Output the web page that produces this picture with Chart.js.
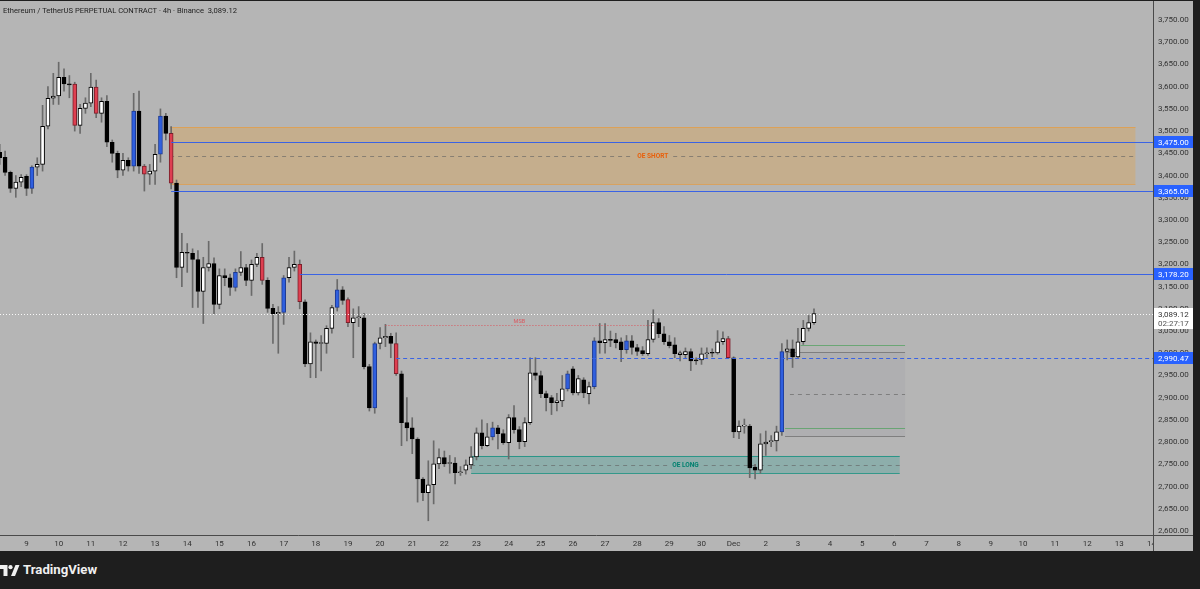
<!DOCTYPE html>
<html lang="en">
  <head>
    <meta charset="UTF-8" />
    <script src="https://cdn.jsdelivr.net/npm/chart.js"></script>
    <style>
      body {
        margin: 0;
        width: 1200px;
        height: 589px;
        overflow: hidden;
        position: relative;
        background: #1e1e1e;
        font-family: Roboto, "Liberation Sans", sans-serif;
      }
      #wrap {
        position: absolute;
        left: 0;
        top: 1px;
        width: 1193px;
        height: 550px;
        background: #b5b5b5;
      }
      #title {
        position: absolute;
        left: 3px;
        top: 6px;
        font-size: 7.6px;
        color: #222;
        white-space: nowrap;
        z-index: 2;
      }
      #footer {
        position: absolute;
        left: 0;
        top: 551px;
        width: 1200px;
        height: 38px;
        background: #1e1e1e;
      }
      #footer span {
        position: absolute;
        left: 23px;
        top: 11px;
        font-size: 13.2px;
        font-weight: bold;
        color: #f0f0f0;
      }
      #footer svg {
        position: absolute;
        left: 0;
        top: 14px;
      }
    </style>
  </head>
  <body>
    <div id="wrap"><canvas id="ethChart" width="1193" height="550"></canvas></div>
    <div id="title">Ethereum / TetherUS PERPETUAL CONTRACT · 4h · Binance&nbsp; 3,089.12</div>
    <div id="footer">
      <svg width="20" height="12" viewBox="0 0 20 12">
        <path d="M0 0H7.5V11H3.5V4H0Z" fill="#f0f0f0" />
        <circle cx="10.5" cy="2.2" r="2.1" fill="#f0f0f0" />
        <path d="M11 11L15.5 0H19.5L15 11Z" fill="#f0f0f0" />
      </svg>
      <span>TradingView</span>
    </div>

    <script>
      // 4h candles, index 0 = 9 Nov 00:00, six candles per day
      const firstCandle = -5;
      const opens = [
        3452, 3441, 3407, 3371, 3385, 3398, 3371, 3419, 3425, 3511,
        3574, 3579, 3621, 3606, 3606, 3513, 3551, 3563, 3599, 3540,
        3567, 3475, 3450, 3412, 3434, 3421, 3545, 3421, 3403, 3410,
        3448, 3534, 3495, 3383, 3193, 3227, 3225, 3211, 3139, 3193,
        3202, 3110, 3175, 3170, 3148, 3182, 3193, 3164, 3200, 3216,
        3164, 3101, 3089, 3092, 3170, 3193, 3200, 3116, 2976, 3026,
        3022, 3022, 3056, 3103, 3143, 3121, 3069, 3080, 3080, 2970,
        2877, 3022, 3035, 3038, 3022, 2954, 2844, 2832, 2807, 2717,
        2686, 2704, 2751, 2765, 2752, 2753, 2731, 2737, 2749, 2767,
        2821, 2792, 2812, 2832, 2819, 2799, 2855, 2828, 2801, 2844,
        2956, 2950, 2909, 2900, 2889, 2893, 2920, 2965, 2911, 2940,
        2909, 2925, 3028, 3024, 3030, 3031, 3026, 3008, 3028, 3013,
        3006, 2999, 3031, 3069, 3044, 3026, 3019, 2997, 2997, 3004,
        2985, 2985, 2999, 3002, 3001, 3026, 3033, 2990, 2823, 2836,
        2836, 2744, 2737, 2796, 2801, 2803, 2823, 3004, 3010, 2992,
        3026, 3056, 3069,
      ];
      const highs = [
        3470, 3455, 3410, 3400, 3402, 3402, 3422, 3440, 3558, 3600,
        3630, 3655, 3640, 3625, 3610, 3560, 3575, 3630, 3615, 3575,
        3580, 3480, 3455, 3450, 3440, 3585, 3590, 3425, 3425, 3470,
        3550, 3540, 3510, 3390, 3270, 3247, 3235, 3231, 3216, 3252,
        3215, 3190, 3190, 3178, 3190, 3229, 3200, 3210, 3225, 3247,
        3170, 3110, 3105, 3175, 3216, 3230, 3210, 3120, 3046, 3030,
        3040, 3062, 3108, 3166, 3150, 3125, 3100, 3105, 3090, 2975,
        3025, 3058, 3065, 3045, 3046, 2960, 2900, 2855, 2810, 2720,
        2758, 2803, 2785, 2780, 2770, 2765, 2745, 2760, 2790, 2832,
        2850, 2842, 2845, 2838, 2828, 2862, 2882, 2835, 2855, 2990,
        2990, 2960, 2915, 2905, 2910, 2950, 2960, 2970, 2950, 2945,
        2935, 3035, 3067, 3067, 3050, 3045, 3035, 3040, 3040, 3020,
        3015, 3074, 3098, 3078, 3060, 3040, 3035, 3005, 3012, 3010,
        2990, 3012, 3012, 3010, 3051, 3048, 3038, 2992, 2848, 2852,
        2840, 2750, 2819, 2825, 2815, 2836, 3022, 3030, 3030, 3056,
        3074, 3085, 3100,
      ];
      const lows = [
        3425, 3400, 3362, 3351, 3375, 3355, 3360, 3400, 3410, 3505,
        3560, 3560, 3590, 3575, 3500, 3495, 3540, 3555, 3530, 3520,
        3465, 3430, 3395, 3400, 3410, 3410, 3405, 3365, 3380, 3380,
        3430, 3480, 3370, 3170, 3150, 3182, 3103, 3103, 3067, 3185,
        3089, 3100, 3152, 3130, 3140, 3175, 3152, 3130, 3195, 3155,
        3092, 3022, 3000, 3065, 3160, 3185, 3100, 2970, 2945, 2945,
        2960, 3000, 3045, 3095, 3110, 3060, 2990, 3060, 2965, 2870,
        2865, 3010, 3015, 2990, 2950, 2792, 2803, 2774, 2665, 2668,
        2623, 2661, 2740, 2745, 2730, 2706, 2725, 2728, 2740, 2760,
        2785, 2790, 2805, 2785, 2795, 2762, 2820, 2785, 2790, 2840,
        2940, 2900, 2870, 2862, 2870, 2880, 2915, 2906, 2906, 2900,
        2886, 2920, 3000, 3000, 3015, 3012, 2981, 3000, 2998, 2995,
        2995, 2995, 3025, 3035, 3020, 3012, 2990, 2983, 2990, 2961,
        2975, 2975, 2990, 2992, 2998, 3020, 2988, 2810, 2808, 2820,
        2720, 2717, 2730, 2770, 2790, 2780, 2815, 2985, 2968, 2990,
        3020, 3050, 3065,
      ];
      const closes = [
        3440, 3407, 3371, 3385, 3396, 3371, 3419, 3425, 3511, 3574,
        3579, 3621, 3606, 3604, 3513, 3551, 3563, 3599, 3540, 3567,
        3475, 3450, 3412, 3434, 3421, 3545, 3421, 3403, 3410, 3448,
        3534, 3495, 3383, 3193, 3227, 3225, 3211, 3139, 3193, 3202,
        3110, 3175, 3170, 3148, 3182, 3193, 3164, 3200, 3216, 3164,
        3101, 3089, 3092, 3170, 3193, 3200, 3116, 2976, 3026, 3022,
        3024, 3056, 3103, 3143, 3119, 3069, 3080, 3081, 2970, 2877,
        3022, 3035, 3038, 3022, 2954, 2844, 2832, 2807, 2717, 2686,
        2704, 2751, 2765, 2751, 2754, 2731, 2733, 2749, 2767, 2821,
        2792, 2812, 2832, 2819, 2799, 2855, 2828, 2801, 2844, 2956,
        2950, 2909, 2900, 2889, 2893, 2920, 2954, 2911, 2943, 2911,
        2925, 3028, 3024, 3031, 3029, 3024, 3008, 3028, 3013, 3004,
        2999, 3031, 3069, 3044, 3026, 3017, 2999, 3001, 3004, 2983,
        2983, 2999, 3001, 3000, 3026, 3033, 2990, 2823, 2836, 2838,
        2742, 2737, 2796, 2800, 2803, 2823, 3004, 3010, 2992, 3026,
        3056, 3069, 3089.12,
      ];
      const blueCandles = [1, 20, 25, 39, 48, 58, 65, 87, 101, 106, 112, 141];
      const redCandles = [9, 13, 22, 27, 44, 51, 60, 69, 131];
      const dayLabels = [
        "9", "10", "11", "12", "13", "14", "15", "16", "17", "18", "19",
        "20", "21", "22", "23", "24", "25", "26", "27", "28", "29", "30",
        "Dec", "2", "3", "4", "5", "6", "7", "8", "9", "10", "11", "12", "13", "14",
      ];
      const priceTicks = [
        2600, 2650, 2700, 2750, 2800, 2850, 2900, 2950, 3000, 3050, 3100, 3150,
        3200, 3250, 3300, 3350, 3400, 3450, 3500, 3550, 3600, 3650, 3700, 3750,
      ];

      // drawings (candle index / price units)
      const zones = [
        { name: "OE SHORT", from: 26.8, to: 207, top: 3509, bottom: 3380,
          fill: "rgba(255,152,0,0.22)", edge: "rgba(240,150,40,0.55)", text: "#e8600a" },
        { name: "OE LONG", from: 83, to: 163, top: 2769, bottom: 2730,
          fill: "rgba(0,150,136,0.22)", edge: "rgba(0,140,120,0.7)", text: "#00806f" },
      ];
      const levels = [
        { price: 3475, from: 27, dash: [] },
        { price: 3365, from: 27, dash: [] },
        { price: 3178.2, from: 51, dash: [] },
        { price: 2990.47, from: 69, dash: [4, 3] },
      ];
      const lastPrice = 3089.12;
      const msb = { price: 3063, from: 67, to: 117 };

      const fmt = (v) =>
        v.toLocaleString("en-US", { minimumFractionDigits: 2, maximumFractionDigits: 2 });

      const BLUE = "#2f5fdf";
      const RED = "#de3f50";
      const AXIS_FONT = "8px Roboto";

      const idx = closes.map((c, k) => firstCandle + k);
      const bodyColor = idx.map((i, k) => {
        if (blueCandles.includes(i)) return BLUE;
        if (redCandles.includes(i)) return RED;
        return closes[k] >= opens[k] ? "#ffffff" : "#000000";
      });

      function hline(ctx, x0, x1, y) {
        const yy = Math.round(y) + 0.5;
        ctx.beginPath();
        ctx.moveTo(x0, yy);
        ctx.lineTo(x1, yy);
        ctx.stroke();
      }

      const drawings = {
        id: "drawings",
        beforeDatasetsDraw(chart) {
          const { ctx, chartArea: a, scales } = chart;
          const x = scales.x, y = scales.y;
          ctx.save();
          ctx.beginPath();
          ctx.rect(a.left, a.top, a.width, a.height);
          ctx.clip();

          zones.forEach((z) => {
            const x0 = x.getPixelForValue(z.from);
            const x1 = x.getPixelForValue(z.to);
            const y0 = y.getPixelForValue(z.top);
            const y1 = y.getPixelForValue(z.bottom);
            const ym = y.getPixelForValue((z.top + z.bottom) / 2);
            ctx.fillStyle = z.fill;
            ctx.fillRect(x0, y0, x1 - x0, y1 - y0);
            ctx.strokeStyle = z.edge;
            ctx.lineWidth = 1;
            hline(ctx, x0, x1, y0);
            hline(ctx, x0, x1, y1);

            ctx.font = "bold 6.5px Roboto";
            ctx.textAlign = "center";
            ctx.textBaseline = "middle";
            const w = ctx.measureText(z.name).width + 10;
            const cx = (x0 + x1) / 2;
            // dashed midline, broken around the label
            ctx.setLineDash([4, 4]);
            ctx.strokeStyle = "rgba(95,95,95,0.6)";
            hline(ctx, x0, cx - w / 2, ym);
            hline(ctx, cx + w / 2, x1, ym);
            ctx.setLineDash([]);
            ctx.fillStyle = z.text;
            ctx.fillText(z.name, cx, ym + 0.5);
          });

          // long position tool
          const bx0 = x.getPixelForValue(141.6);
          const bx1 = x.getPixelForValue(164);
          const pTop = y.getPixelForValue(3002);
          const pBot = y.getPixelForValue(2814);
          ctx.fillStyle = "rgba(90,90,120,0.06)";
          ctx.fillRect(bx0, pTop, bx1 - bx0, pBot - pTop);
          ctx.lineWidth = 1;
          ctx.strokeStyle = "rgba(76,160,90,0.7)";
          hline(ctx, x.getPixelForValue(144.5), bx1, y.getPixelForValue(3019));
          hline(ctx, bx0, bx1, y.getPixelForValue(2832));
          ctx.strokeStyle = "rgba(110,110,110,0.75)";
          hline(ctx, bx0, bx1, pTop);
          hline(ctx, bx0, bx1, pBot);
          ctx.setLineDash([4, 4]);
          hline(ctx, x.getPixelForValue(142.5), bx1, y.getPixelForValue(2909));
          ctx.setLineDash([]);
          ctx.restore();
        },
        afterDatasetsDraw(chart) {
          const { ctx, chartArea: a, scales } = chart;
          const x = scales.x, y = scales.y;
          ctx.save();
          ctx.beginPath();
          ctx.rect(a.left, a.top, a.width, a.height);
          ctx.clip();
          ctx.lineWidth = 1;

          // market structure break
          ctx.strokeStyle = "rgba(225,70,80,0.85)";
          ctx.setLineDash([1, 2]);
          const my = y.getPixelForValue(msb.price);
          const mx0 = x.getPixelForValue(msb.from);
          const mx1 = x.getPixelForValue(msb.to);
          hline(ctx, mx0, mx1, my);
          ctx.setLineDash([]);
          ctx.fillStyle = "rgba(225,70,80,0.85)";
          ctx.font = "5.5px Roboto";
          ctx.textAlign = "center";
          ctx.textBaseline = "bottom";
          ctx.fillText("MSB", (mx0 + mx1) / 2, my - 1);

          levels.forEach((l) => {
            ctx.strokeStyle = "#3a63e4";
            ctx.setLineDash(l.dash);
            hline(ctx, x.getPixelForValue(l.from), a.right, y.getPixelForValue(l.price));
          });
          ctx.setLineDash([1, 2]);
          ctx.strokeStyle = "rgba(255,255,255,0.9)";
          hline(ctx, a.left, a.right, y.getPixelForValue(lastPrice));
          ctx.setLineDash([]);
          ctx.restore();
        },
        afterDraw(chart) {
          const { ctx, chartArea: a, scales, width, height } = chart;
          const y = scales.y;
          ctx.save();
          // hide the time label spilling under the price scale
          ctx.fillStyle = "#b5b5b5";
          ctx.fillRect(a.right, a.bottom, width - a.right, height - a.bottom);
          ctx.strokeStyle = "#4a4a4a";
          ctx.lineWidth = 1;
          ctx.beginPath();
          ctx.moveTo(a.right + 0.5, 0);
          ctx.lineTo(a.right + 0.5, height);
          ctx.moveTo(0, a.bottom + 0.5);
          ctx.lineTo(width, a.bottom + 0.5);
          ctx.stroke();

          ctx.font = AXIS_FONT;
          ctx.textAlign = "left";
          ctx.textBaseline = "middle";
          levels.forEach((l) => {
            const py = Math.round(y.getPixelForValue(l.price));
            ctx.fillStyle = "#2962ff";
            ctx.fillRect(a.right + 1, py - 6, 39, 12);
            ctx.fillStyle = "#ffffff";
            ctx.fillText(fmt(l.price), a.right + 5, py + 0.5);
          });
          const py = Math.round(y.getPixelForValue(lastPrice));
          ctx.fillStyle = "#ffffff";
          ctx.fillRect(a.right + 1, py - 6, 39, 21);
          ctx.fillStyle = "#333333";
          ctx.fillText(fmt(lastPrice), a.right + 5, py + 0.5);
          ctx.fillStyle = "#555555";
          ctx.fillText("02:27:17", a.right + 5, py + 9.5);
          ctx.restore();
        },
      };

      const ctx = document.getElementById("ethChart").getContext("2d");
      const ethChart = new Chart(ctx, {
        type: "bar",
        data: {
          datasets: [
            {
              label: "Body",
              data: idx.map((i, k) => ({ x: i, y: [opens[k], closes[k]] })),
              backgroundColor: bodyColor,
              borderColor: bodyColor.map((c) => (c === BLUE ? "#1d3a94" : c === RED ? "#7a1f2a" : "#000000")),
              borderWidth: 1,
              borderSkipped: false,
              barThickness: 4,
              minBarLength: 1,
              grouped: false,
            },
            {
              label: "Wick",
              data: idx.map((i, k) => ({ x: i, y: [lows[k], highs[k]] })),
              backgroundColor: "#6a6a6a",
              borderWidth: 0,
              barThickness: 1,
              grouped: false,
            },
          ],
        },
        options: {
          responsive: false,
          animation: false,
          devicePixelRatio: 1,
          layout: { padding: 0 },
          plugins: { legend: { display: false }, tooltip: { enabled: false } },
          scales: {
            x: {
              type: "linear",
              min: -4.95,
              max: 210.28,
              offset: false,
              grid: { display: false, drawTicks: false },
              border: { display: false },
              afterBuildTicks: (s) => {
                s.ticks = dayLabels.map((d, k) => ({ value: k * 6 }));
              },
              ticks: {
                autoSkip: false,
                maxRotation: 0,
                padding: 4,
                color: "#333333",
                font: { family: "Roboto", size: 8 },
                callback: (v, i) => dayLabels[i],
              },
              afterFit: (s) => {
                s.height = 16;
                s.paddingLeft = 0;
                s.paddingRight = 0;
              },
            },
            y: {
              position: "right",
              min: 2591,
              max: 3792.8,
              grid: { display: false, drawTicks: false },
              border: { display: false },
              afterBuildTicks: (s) => {
                s.ticks = priceTicks.map((v) => ({ value: v }));
              },
              ticks: {
                padding: 5,
                color: "#333333",
                font: { family: "Roboto", size: 8 },
                callback: (v) => fmt(v),
              },
              afterFit: (s) => {
                s.width = 40;
                s.paddingTop = 0;
                s.paddingBottom = 0;
              },
            },
          },
        },
        plugins: [drawings],
      });
    </script>
  </body>
</html>
